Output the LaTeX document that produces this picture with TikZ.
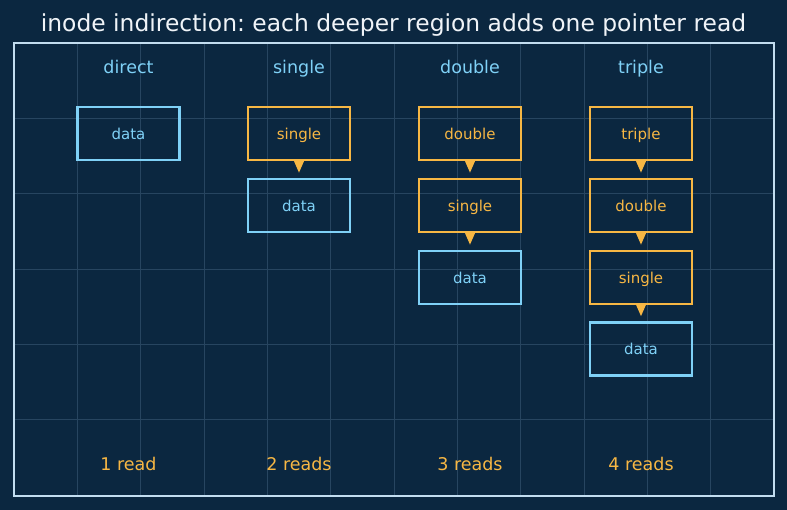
\documentclass[tikz,border=0pt]{standalone}
\usepackage{fontspec}
\setmainfont{DejaVu Sans}
\usetikzlibrary{arrows.meta}
\frenchspacing
\definecolor{bg}{HTML}{0B2740}
\definecolor{gridc}{HTML}{274560}
\definecolor{framec}{HTML}{C2DDF0}
\definecolor{bluec}{HTML}{7FD1F7}
\definecolor{orangec}{HTML}{F7B744}
\definecolor{titlec}{HTML}{F0F4F8}
\tikzset{
  blk/.style={draw, line width=2.6pt, minimum width=102pt, minimum height=53pt,
    inner sep=0pt, font=\fontsize{15}{15}\selectfont, text height=12pt, text depth=0pt},
  ptrbox/.style={blk, draw=orangec, text=orangec},
  databox/.style={blk, draw=bluec, text=bluec},
  ptrarrow/.style={draw=orangec, line width=1.5pt, shorten >=5pt,
    -{Triangle[length=12pt,width=10pt]}, fill=orangec},
  collabel/.style={anchor=base, text=bluec, font=\fontsize{17.5}{17.5}\selectfont},
  readlabel/.style={anchor=base, text=orangec, font=\fontsize{17.5}{17.5}\selectfont},
  titlelabel/.style={anchor=base, text=titlec, font=\fontsize{23.4}{23.4}\selectfont},
  gridline/.style={draw=gridc, line width=0.8pt},
  framebox/.style={draw=framec, line width=2pt}
}
\begin{document}
\begin{tikzpicture}[x=1pt, y=-1pt]
\useasboundingbox (0,0) rectangle (787,510);
\fill[bg] (0,0) rectangle (787,510);
% grid
\foreach \k in {1,...,11} { \draw[gridline] ({14+63.333*\k},43) -- ({14+63.333*\k},495.5); }
\foreach \k in {1,...,5} { \draw[gridline] (14,{43+75.33*\k}) -- (774,{43+75.33*\k}); }
\draw[framebox] (14,43) rectangle (774,495.5);
% title
\node[titlelabel] (title) at (393.5,32) {inode indirection: each deeper region adds one pointer read};
% column labels
\node[collabel] (ldirect) at (128.5,74) {direct};
\node[collabel] (lsingle) at (299,74) {single};
\node[collabel] (ldouble) at (470,74) {double};
\node[collabel] (ltriple) at (641,74) {triple};
% direct
\node[databox] (d1) at (128.5,133.5) {data};
% single
\node[ptrbox] (s1) at (299,133.5) {single};
\node[databox] (s2) at (299,205.5) {data};
\draw[ptrarrow] (s1.south) -- (s2.north);
% double
\node[ptrbox] (b1) at (470,133.5) {double};
\node[ptrbox] (b2) at (470,205.5) {single};
\node[databox] (b3) at (470,277.5) {data};
\draw[ptrarrow] (b1.south) -- (b2.north);
\draw[ptrarrow] (b2.south) -- (b3.north);
% triple
\node[ptrbox] (t1) at (641,133.5) {triple};
\node[ptrbox] (t2) at (641,205.5) {double};
\node[ptrbox] (t3) at (641,277.5) {single};
\node[databox] (t4) at (641,349) {data};
\draw[ptrarrow] (t1.south) -- (t2.north);
\draw[ptrarrow] (t2.south) -- (t3.north);
\draw[ptrarrow] (t3.south) -- (t4.north);
% read counts
\node[readlabel] (r1) at (128.5,470) {1 read};
\node[readlabel] (r2) at (299,470) {2 reads};
\node[readlabel] (r3) at (470,470) {3 reads};
\node[readlabel] (r4) at (641,470) {4 reads};
\end{tikzpicture}
\end{document}
